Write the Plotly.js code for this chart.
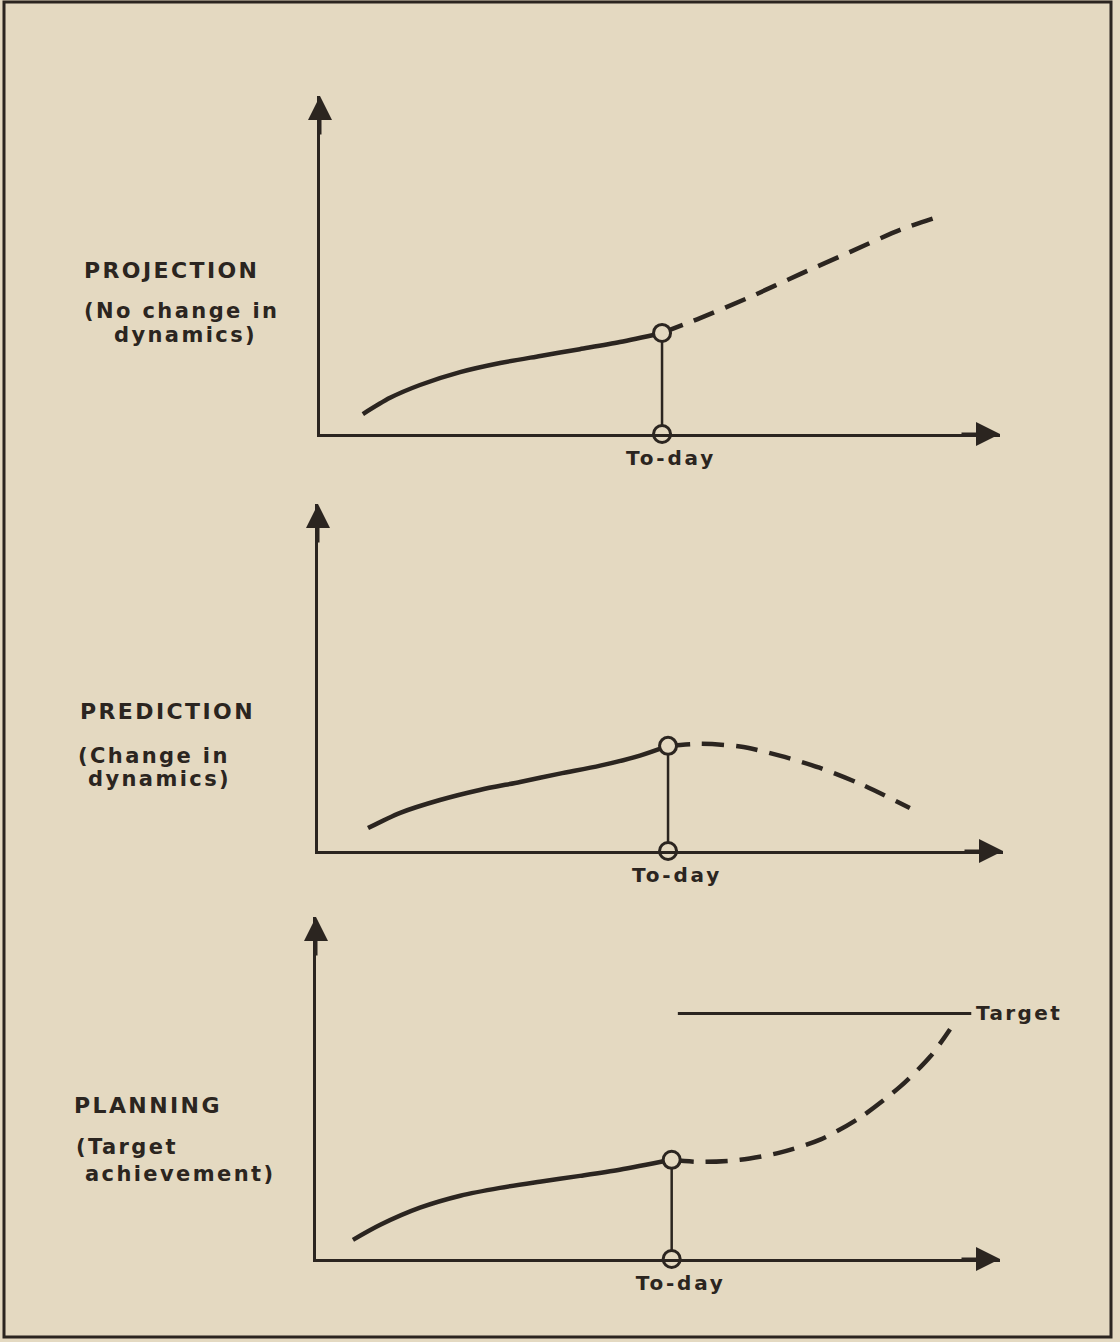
<!DOCTYPE html>
<html>
<head>
<meta charset="utf-8">
<script src="https://cdn.plot.ly/plotly-3.0.1.min.js"></script>
<style>
  html, body { margin: 0; padding: 0; background: #e4d9c1; }
  #chart { width: 1120px; height: 1342px; }
</style>
</head>
<body>
<div id="chart"></div>
<script>
// ---------- DATA ----------
const panelTitles = ["PROJECTION", "PREDICTION", "PLANNING"];
const panelSubtitle1 = ["(No change in", "(Change in", "(Target"];
const panelSubtitle2 = ["dynamics)", "dynamics)", "achievement)"];
const todayLabel = "To-day";
const targetLabel = "Target";

// Panel 1 – projection
const p1PastX = [0.63, 1.03, 1.47, 2.06, 2.65, 3.24, 3.82, 4.41, 5.03];
const p1PastY = [0.59, 1.07, 1.45, 1.83, 2.10, 2.31, 2.51, 2.72, 2.99];
const p1FutX  = [5.03, 5.59, 6.32, 7.06, 7.79, 8.53, 9.04];
const p1FutY  = [2.99, 3.43, 4.05, 4.73, 5.38, 6.04, 6.39];
const p1Today = 5.03;

// Panel 2 – prediction
const p2PastX = [0.73, 1.20, 1.78, 2.36, 2.95, 3.53, 4.12, 4.70, 5.11];
const p2PastY = [0.66, 1.10, 1.47, 1.76, 1.99, 2.23, 2.46, 2.75, 3.03];
const p2FutX  = [5.11, 5.58, 6.16, 6.74, 7.32, 7.91, 8.64];
const p2FutY  = [3.03, 3.09, 3.01, 2.75, 2.40, 1.94, 1.24];
const p2Today = 5.11;

// Panel 3 – planning
const p3PastX = [0.54, 0.94, 1.52, 2.11, 2.69, 3.27, 3.86, 4.44, 5.20];
const p3PastY = [0.56, 1.00, 1.50, 1.85, 2.08, 2.26, 2.43, 2.61, 2.90];
const p3FutX  = [5.20, 5.61, 6.20, 6.78, 7.37, 7.95, 8.54, 8.98, 9.27];
const p3FutY  = [2.90, 2.84, 2.90, 3.11, 3.49, 4.13, 5.04, 5.92, 6.72];
const p3Today = 5.20;
const p3TargetX = [5.29, 9.58];
const p3TargetY = [7.18, 7.18];

// ---------- STYLE ----------
const INK = "#2b2520";
const PAPER = "#e4d9c1";
const FONT = "DejaVu Sans";

const panels = [
  {px: p1PastX, py: p1PastY, fx: p1FutX, fy: p1FutY, t: p1Today, xa: "x",  ya: "y"},
  {px: p2PastX, py: p2PastY, fx: p2FutX, fy: p2FutY, t: p2Today, xa: "x2", ya: "y2"},
  {px: p3PastX, py: p3PastY, fx: p3FutX, fy: p3FutY, t: p3Today, xa: "x3", ya: "y3"}
];

const traces = [];
panels.forEach((p) => {
  traces.push({x: p.px, y: p.py, xaxis: p.xa, yaxis: p.ya, mode: "lines",
    line: {color: INK, width: 4.5, shape: "spline", smoothing: 0.8}, hoverinfo: "skip", cliponaxis: false});
  traces.push({x: p.fx, y: p.fy, xaxis: p.xa, yaxis: p.ya, mode: "lines",
    line: {color: INK, width: 4.5, shape: "spline", smoothing: 0.8, dash: "22px,12px"}, hoverinfo: "skip", cliponaxis: false});
  const ty = p.py[p.py.length - 1];
  traces.push({x: [p.t, p.t], y: [0, ty], xaxis: p.xa, yaxis: p.ya, mode: "lines",
    line: {color: INK, width: 2.5}, hoverinfo: "skip", cliponaxis: false});
  traces.push({x: [p.t, p.t], y: [0, ty], xaxis: p.xa, yaxis: p.ya, mode: "markers",
    marker: {symbol: "circle", size: 17, color: PAPER, line: {color: INK, width: 3}},
    hoverinfo: "skip", cliponaxis: false});
});
traces.push({x: p3TargetX, y: p3TargetY, xaxis: "x3", yaxis: "y3", mode: "lines",
  line: {color: INK, width: 3}, hoverinfo: "skip", cliponaxis: false});

const W = 1120, H = 1342;
function xd(a, b) { return [a / W, b / W]; }
function yd(bottom, top) { return [1 - bottom / H, 1 - top / H]; }

function xaxisCfg(dom, anchor, t) {
  return {domain: dom, anchor: anchor, range: [0, 10], showgrid: false, zeroline: false,
    showline: true, linecolor: INK, linewidth: 3, layer: "above traces",
    ticks: "", tickvals: [t], ticktext: [todayLabel], ticklabelstandoff: 4, ticklabelshift: 9,
    tickfont: {family: FONT, size: 20, color: INK, weight: "bold"}, fixedrange: true};
}
function yaxisCfg(dom, anchor) {
  return {domain: dom, anchor: anchor, range: [0, 10], showgrid: false, zeroline: false,
    showline: true, linecolor: INK, linewidth: 3, layer: "above traces",
    ticks: "", showticklabels: false, fixedrange: true};
}

const anns = [];
function txt(text, left, yc, size) {
  anns.push({text: text, xref: "paper", yref: "paper", x: left / W, y: 1 - yc / H,
    xanchor: "left", yanchor: "middle", align: "left", showarrow: false,
    font: {family: FONT, size: size, color: INK, weight: "bold"}});
}
txt(panelTitles[0], 82, 270, 22);
txt(panelSubtitle1[0], 82, 311, 21);
txt(panelSubtitle2[0], 112, 335, 21);
txt(panelTitles[1], 78, 711, 22);
txt(panelSubtitle1[1], 76, 756, 21);
txt(panelSubtitle2[1], 86, 779, 21);
txt(panelTitles[2], 72, 1105, 22);
txt(panelSubtitle1[2], 74, 1147, 21);
txt(panelSubtitle2[2], 83, 1174, 21);
anns.push({text: targetLabel, xref: "x3", yref: "y3", x: p3TargetX[1], y: p3TargetY[0],
  xanchor: "left", yanchor: "middle", align: "left", xshift: 3, showarrow: false,
  font: {family: FONT, size: 20, color: INK, weight: "bold"}});

[["x", "y"], ["x2", "y2"], ["x3", "y3"]].forEach(([xa, ya]) => {
  anns.push({xref: xa, yref: ya, x: 10, y: 0, ax: -40, ay: 0, axref: "pixel", ayref: "pixel",
    text: "", showarrow: true, arrowhead: 2, arrowsize: 1.6, arrowwidth: 3, arrowcolor: INK, standoff: 0});
  anns.push({xref: xa, yref: ya, x: 0, y: 10, ax: 0, ay: 40, axref: "pixel", ayref: "pixel",
    text: "", showarrow: true, arrowhead: 2, arrowsize: 1.6, arrowwidth: 3, arrowcolor: INK, standoff: 0});
});

const layout = {
  width: W, height: H,
  margin: {l: 0, r: 0, t: 0, b: 0},
  paper_bgcolor: PAPER, plot_bgcolor: "rgba(0,0,0,0)",
  showlegend: false,
  xaxis:  xaxisCfg(xd(320, 1000), "y",  p1Today),
  yaxis:  yaxisCfg(yd(434, 96), "x"),
  xaxis2: xaxisCfg(xd(318, 1003), "y2", p2Today),
  yaxis2: yaxisCfg(yd(851, 504), "x2"),
  xaxis3: xaxisCfg(xd(316, 1000), "y3", p3Today),
  yaxis3: yaxisCfg(yd(1259, 917), "x3"),
  annotations: anns,
  shapes: [
    {type: "rect", xref: "paper", yref: "paper", x0: 4 / W, x1: 1111 / W, y0: 1 - 1337 / H, y1: 1 - 2 / H,
     line: {color: INK, width: 3}, fillcolor: "rgba(0,0,0,0)"}
  ]
};

function spaceText(gd) {
  gd.querySelectorAll(".annotation-text").forEach((t) => {
    t.style.letterSpacing = "2.4px";
  });
  gd.querySelectorAll(".xtick text, .x2tick text, .x3tick text").forEach((t) => {
    t.style.letterSpacing = "2.8px";
  });
}

const gd = document.getElementById("chart");
Plotly.newPlot(gd, traces, layout, {staticPlot: true, displayModeBar: false}).then(spaceText);
</script>
</body>
</html>
